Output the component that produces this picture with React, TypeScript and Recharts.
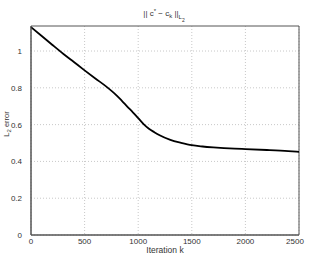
import { LineChart, Line, XAxis, YAxis, CartesianGrid, ReferenceArea } from "recharts";

const iterations = [
  0, 100, 200, 300, 400, 500, 600, 700, 800, 850, 900, 950, 1000, 1050, 1100, 1150, 1200,
  1300, 1400, 1500, 1600, 1700, 1800, 1900, 2000, 2200, 2400, 2500,
];
const errors = [
  1.13, 1.082, 1.033, 0.985, 0.94, 0.895, 0.851, 0.808, 0.758, 0.728, 0.697, 0.667, 0.635,
  0.603, 0.578, 0.559, 0.542, 0.517, 0.501, 0.488, 0.481, 0.476, 0.472, 0.469, 0.467, 0.462,
  0.456, 0.452,
];
const xTicks = [0, 500, 1000, 1500, 2000, 2500];
const yTicks = [0, 0.2, 0.4, 0.6, 0.8, 1];
const Y_MAX = 1.136;

const data = iterations.map((k, i) => ({ k, err: errors[i] }));

const FONT = "'Liberation Sans', Arial, sans-serif";
const TEXT = "#333";

// axis at y=235, ticks sit just under it
const XTick = ({ x, payload }: any) => (
  <text x={x} y={244} textAnchor="middle" fontSize={8} fontFamily={FONT} fill={TEXT}>
    {payload.value}
  </text>
);

const YTick = ({ x, y, payload }: any) => (
  <text x={x} y={y + 3} textAnchor="end" fontSize={8} fontFamily={FONT} fill={TEXT}>
    {payload.value}
  </text>
);

export default function App() {
  return (
    <div style={{ position: "fixed", left: 0, top: 0, width: 311, height: 256, background: "#fff" }}>
      <LineChart
        width={311}
        height={256}
        data={data}
        margin={{ top: 26, right: 12, bottom: 0, left: 0 }}
      >
        <CartesianGrid
          xAxisId="bottom"
          yAxisId="left"
          stroke="#c8c8c8"
          strokeDasharray="1 2"
          horizontalValues={yTicks}
          verticalValues={xTicks}
        />
        <XAxis
          xAxisId="bottom"
          dataKey="k"
          type="number"
          domain={[0, 2500]}
          ticks={xTicks}
          stroke="#555"
          tickLine={false}
          tick={<XTick />}
          tickMargin={0}
          height={21}
        />
        <YAxis
          yAxisId="left"
          type="number"
          domain={[0, Y_MAX]}
          ticks={yTicks}
          stroke="#555"
          tickLine={false}
          tick={<YTick />}
          tickMargin={3}
          width={31}
        />
        <ReferenceArea
          xAxisId="bottom"
          yAxisId="left"
          x1={0}
          x2={2500}
          y1={0}
          y2={Y_MAX}
          fill="none"
          stroke="#555"
          strokeWidth={1}
        />
        <Line
          xAxisId="bottom"
          yAxisId="left"
          dataKey="err"
          type="monotone"
          stroke="#000"
          strokeWidth={1.8}
          dot={false}
          isAnimationActive={false}
        />
      </LineChart>
      <svg
        width={311}
        height={256}
        style={{ position: "absolute", left: 0, top: 0, pointerEvents: "none" }}
        fontFamily={FONT}
        fill={TEXT}
      >
        <text x={164} y={16} textAnchor="middle" fontSize={8}>
          || c<tspan fontSize={6} dy={-3}>*</tspan>
          <tspan dy={3}> − c</tspan>
          <tspan fontSize={6} dy={2}>k</tspan>
          <tspan dy={-2}> ||</tspan>
          <tspan fontSize={6} dy={3}>L</tspan>
          <tspan fontSize={5} dy={3}>2</tspan>
        </text>
        <text x={165} y={253} textAnchor="middle" fontSize={8.5}>
          Iteration k
        </text>
        <text transform="translate(9, 124) rotate(-90)" textAnchor="middle" fontSize={7.5}>
          L<tspan fontSize={6} dy={2}>2</tspan>
          <tspan dy={-2}> error</tspan>
        </text>
      </svg>
    </div>
  );
}
